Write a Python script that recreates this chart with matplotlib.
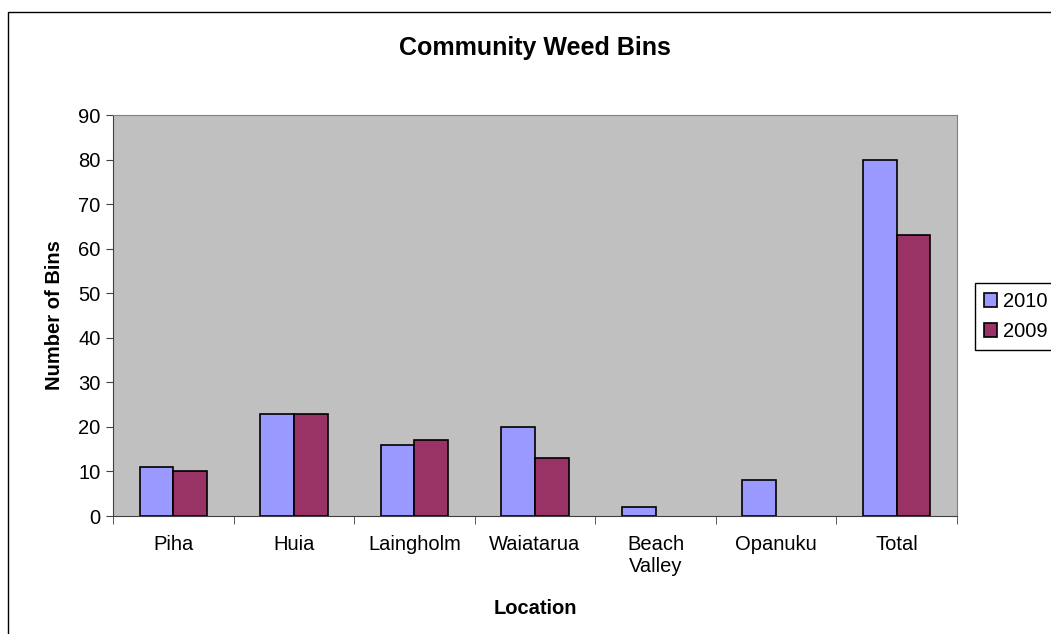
import matplotlib
matplotlib.use("Agg")
import matplotlib.pyplot as plt
from matplotlib.patches import Rectangle
import numpy as np

plt.rcParams['font.family'] = ['Liberation Sans', 'DejaVu Sans']

locations = ['Piha', 'Huia', 'Laingholm', 'Waiatarua', 'Beach\nValley', 'Opanuku', 'Total']
bins_2010 = [11, 23, 16, 20, 2, 8, 80]
bins_2009 = [10, 23, 17, 13, 0, 0, 63]

W, H = 1051, 634
fig = plt.figure(figsize=(W / 100, H / 100), dpi=100)
ax = fig.add_axes([113 / W, 1 - 516 / H, (957 - 113) / W, (516 - 115) / H])
ax.set_facecolor('#c0c0c0')

x = np.arange(len(locations))
bw = 0.28
# empty bars get no outline (Excel draws nothing for 0)
ax.bar(x - bw / 2, bins_2010, bw, color='#9999ff', linewidth=1.2, label='2010',
       edgecolor=['black' if v > 0 else 'none' for v in bins_2010])
ax.bar(x + bw / 2, bins_2009, bw, color='#993366', linewidth=1.2, label='2009',
       edgecolor=['black' if v > 0 else 'none' for v in bins_2009])

fs = 14.5
ax.set_xlim(-0.5, len(locations) - 0.5)
ax.set_ylim(0, 90)
ax.set_yticks(range(0, 91, 10))
ax.set_xticks(x)
ax.set_xticklabels(locations, fontsize=fs, linespacing=1.2)
ax.set_xticks(np.arange(-0.5, len(locations), 1), minor=True)
ax.tick_params(axis='x', which='major', length=0, pad=14)
ax.tick_params(axis='x', which='minor', length=6, direction='out', color='#404040')
ax.tick_params(axis='y', length=5, direction='out', color='#404040', labelsize=fs, pad=4)

for s in ['left', 'bottom']:
    ax.spines[s].set_color('#404040')
for s in ['top', 'right']:
    ax.spines[s].set_color('#808080')

ax.set_ylabel('Number of Bins', fontsize=fs, fontweight='bold', labelpad=10)
ax.set_xlabel('Location', fontsize=fs, fontweight='bold', labelpad=16)
fig.text(535 / W, 1 - 48 / H, 'Community Weed Bins', fontsize=18, fontweight='bold',
         ha='center', va='center')

# outer chart border (runs off the right/bottom edges)
fig.patches.append(Rectangle((8 / W, -0.1), 1.2, (H - 12) / H + 0.1, fill=False,
                             edgecolor='black', linewidth=1, transform=fig.transFigure))

leg = fig.legend(loc='upper left', bbox_to_anchor=(975 / W, 1 - 283 / H), fontsize=fs,
                 frameon=True, fancybox=False, edgecolor='black', framealpha=1,
                 handlelength=0.65, handleheight=0.65, handletextpad=0.3, borderpad=0.45,
                 labelspacing=0.55, borderaxespad=0)
leg.get_frame().set_linewidth(1)

fig.savefig('out.png', dpi=100)
